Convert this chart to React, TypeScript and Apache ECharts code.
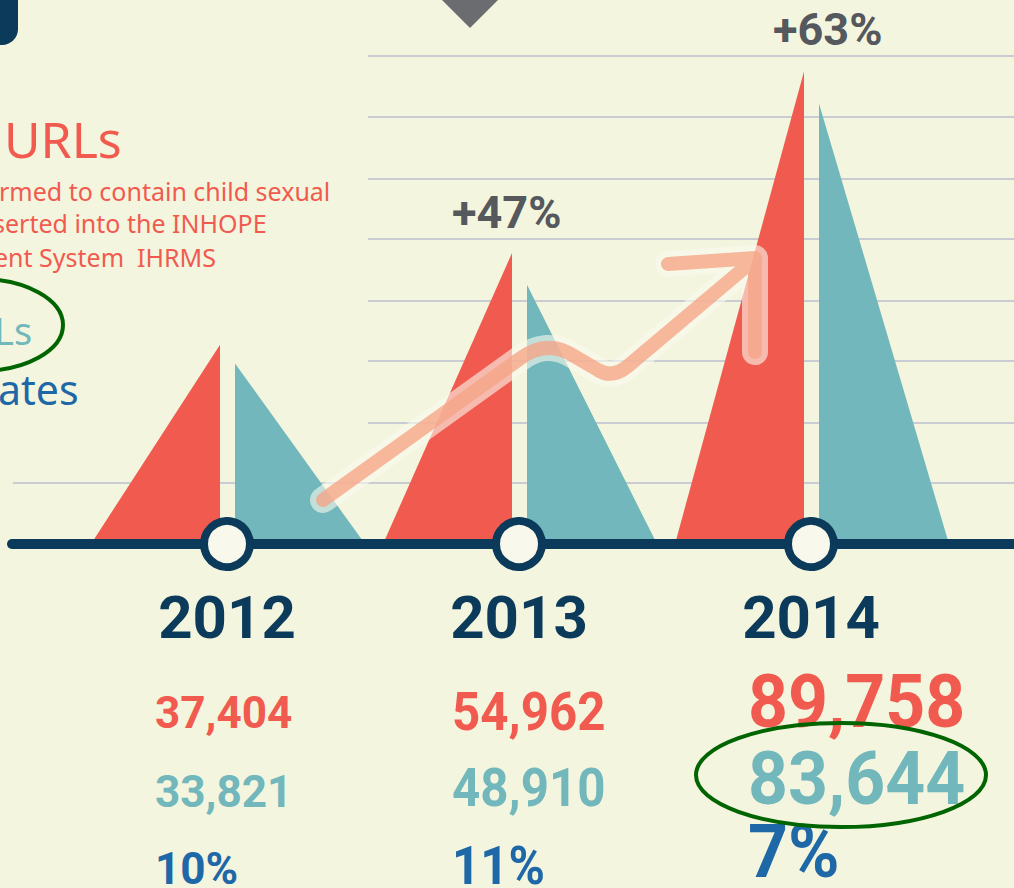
import React, { useEffect, useRef } from "react";
import * as echarts from "echarts";

// ---- data ----
const YEARS = ["2012", "2013", "2014"];
const REPORTED_URLS = [37404, 54962, 89758];
const UNIQUE_URLS = [33821, 48910, 83644];
const DUPLICATE_RATE = [10, 11, 7];
const GROWTH = [null, 47, 63];

// ---- style constants ----
const BG = "#f4f5de";
const RED = "#f15b4f";
const TEAL = "#71b7bb";
const NAVY = "#0b3a5a";
const BLUE = "#1f68a8";
const GRAY = "#55585c";
const GRID = "#c9cdd3";

const ARROW_D =
  "M323,500 L518,360 Q546,338 574,356 L598,370 Q612,379 628,366 L755,259 M668,264 L755,258 L755,352";
echarts.graphic.registerShape("trendArrow", echarts.graphic.extendPath(ARROW_D, {}));

export default function App() {
  const ref = useRef<HTMLDivElement>(null);

  useEffect(() => {
    document.body.style.margin = "0";
    document.body.style.background = BG;
    const chart = echarts.init(ref.current!, null, { renderer: "svg" });

    const triData = YEARS.map((_, i) => [i, REPORTED_URLS[i], UNIQUE_URLS[i]]);

    const gridYs = [56, 117, 179, 239, 301, 361, 423];
    const elements: any[] = [];
    gridYs.forEach((y) =>
      elements.push({ type: "line", z: 1, shape: { x1: 368, y1: y, x2: 1014, y2: y }, style: { stroke: GRID, lineWidth: 2 } })
    );
    elements.push({ type: "line", z: 1, shape: { x1: 13, y1: 483, x2: 1014, y2: 483 }, style: { stroke: GRID, lineWidth: 2 } });

    // baseline
    elements.push({ type: "line", z: 3, shape: { x1: 12, y1: 544, x2: 1020, y2: 544 }, style: { stroke: NAVY, lineWidth: 10, lineCap: "round" } });

    // decorations at top
    elements.push({ type: "rect", z: 1, shape: { x: -20, y: -20, width: 38, height: 65, r: [0, 0, 16, 16] }, style: { fill: NAVY } });
    elements.push({ type: "polygon", z: 1, shape: { points: [[439, -3], [501, -3], [470, 28]] }, style: { fill: "#6b6c70" } });

    // trend arrow
    elements.push({ type: "trendArrow", z: 6, x: 0, y: 0, style: { fill: "none", stroke: "rgba(250,250,238,0.6)", lineWidth: 26, lineCap: "round", lineJoin: "round" } });
    elements.push({ type: "trendArrow", z: 7, x: 0, y: 0, style: { fill: "none", stroke: "rgba(245,164,133,0.78)", lineWidth: 14, lineCap: "round", lineJoin: "round" } });

    // left legend texts
    const txt = (text: string, x: number, y: number, size: number, color: string, weight: any = "normal", family = "Noto Sans") => ({
      type: "text", z: 10, x, y,
      style: { text, x: 0, y: 0, fill: color, font: `${weight} ${size}px "${family}"`, align: "left", verticalAlign: "middle" },
    });
    elements.push(txt("URLs", 4, 139, 50, RED));
    elements.push(txt("rmed to contain child sexual", -1, 191, 25, RED));
    elements.push(txt("serted into the INHOPE", -7, 223, 25, RED));
    elements.push(txt("ent System  IHRMS", -6, 257, 25, RED));
    elements.push(txt("Ls", -6, 330, 38, TEAL));
    elements.push(txt("ates", -2, 389, 41, BLUE));

    // growth labels
    const growthPos = [null, [452, 212], [773, 29]];
    GROWTH.forEach((g, i) => {
      if (g == null) return;
      const p = growthPos[i]!;
      elements.push(txt(`+${g}%`, p[0], p[1], 45, GRAY, "bold", "Roboto"));
    });

    // value rows
    const colX = [155, 452, 748];
    const colSize = [45, 53, 75];
    const colScale = [0.98, 0.93, 0.93];
    const redY = [713, 712, 702];
    const tealY = [792, 788, 779];
    const blueY = [869, 866, 852];
    YEARS.forEach((_, i) => {
      const mk = (s: string, y: number, c: string) => {
        const e: any = txt(s, colX[i], y, colSize[i], c, "bold", "Roboto");
        e.scaleX = colScale[i];
        return e;
      };
      elements.push(mk(REPORTED_URLS[i].toLocaleString("en-US"), redY[i], RED));
      elements.push(mk(UNIQUE_URLS[i].toLocaleString("en-US"), tealY[i], TEAL));
      elements.push(mk(`${DUPLICATE_RATE[i]}%`, blueY[i], BLUE));
    });

    // annotation ellipses
    elements.push({ type: "ellipse", z: 12, shape: { cx: -20, cy: 325, rx: 83, ry: 46 }, style: { fill: "none", stroke: "#006400", lineWidth: 4 } });
    elements.push({ type: "ellipse", z: 12, shape: { cx: 841, cy: 775, rx: 145, ry: 52 }, style: { fill: "none", stroke: "#006400", lineWidth: 4 } });

    chart.setOption({
      animation: false,
      backgroundColor: BG,
      grid: { left: 81, right: 57, top: 18, bottom: 348 },
      xAxis: {
        type: "category",
        data: YEARS,
        axisLine: { show: false },
        axisTick: { show: false },
        axisLabel: { margin: 47, fontSize: 60, fontWeight: "bold", fontFamily: "Roboto", color: NAVY },
      },
      yAxis: { type: "value", min: 0, max: 100000, show: false, splitLine: { show: false } },
      graphic: { elements },
      series: [
        {
          type: "custom",
          z: 2,
          data: triData,
          renderItem: (params: any, api: any) => {
            const i = api.value(0);
            const [xc, base] = api.coord([i, 0]);
            const redTop = api.coord([i, api.value(1)])[1];
            const tealTop = api.coord([i, api.value(2)])[1];
            return {
              type: "group",
              children: [
                { type: "polygon", shape: { points: [[xc - 136, base + 4], [xc - 7, base + 4], [xc - 7, redTop]] }, style: { fill: RED } },
                { type: "polygon", shape: { points: [[xc + 8, base + 4], [xc + 8, tealTop], [xc + 138, base + 4]] }, style: { fill: TEAL } },
              ],
            };
          },
        },
        {
          type: "custom",
          z: 4,
          data: triData,
          renderItem: (params: any, api: any) => {
            const [xc, base] = api.coord([api.value(0), 0]);
            return { type: "circle", shape: { cx: xc, cy: base + 4, r: 23 }, style: { fill: "#f8f8ec", stroke: NAVY, lineWidth: 8 } };
          },
        },
      ],
    });
    return () => chart.dispose();
  }, []);

  return <div ref={ref} style={{ position: "absolute", left: 0, top: 0, width: 1014, height: 888 }} />;
}
